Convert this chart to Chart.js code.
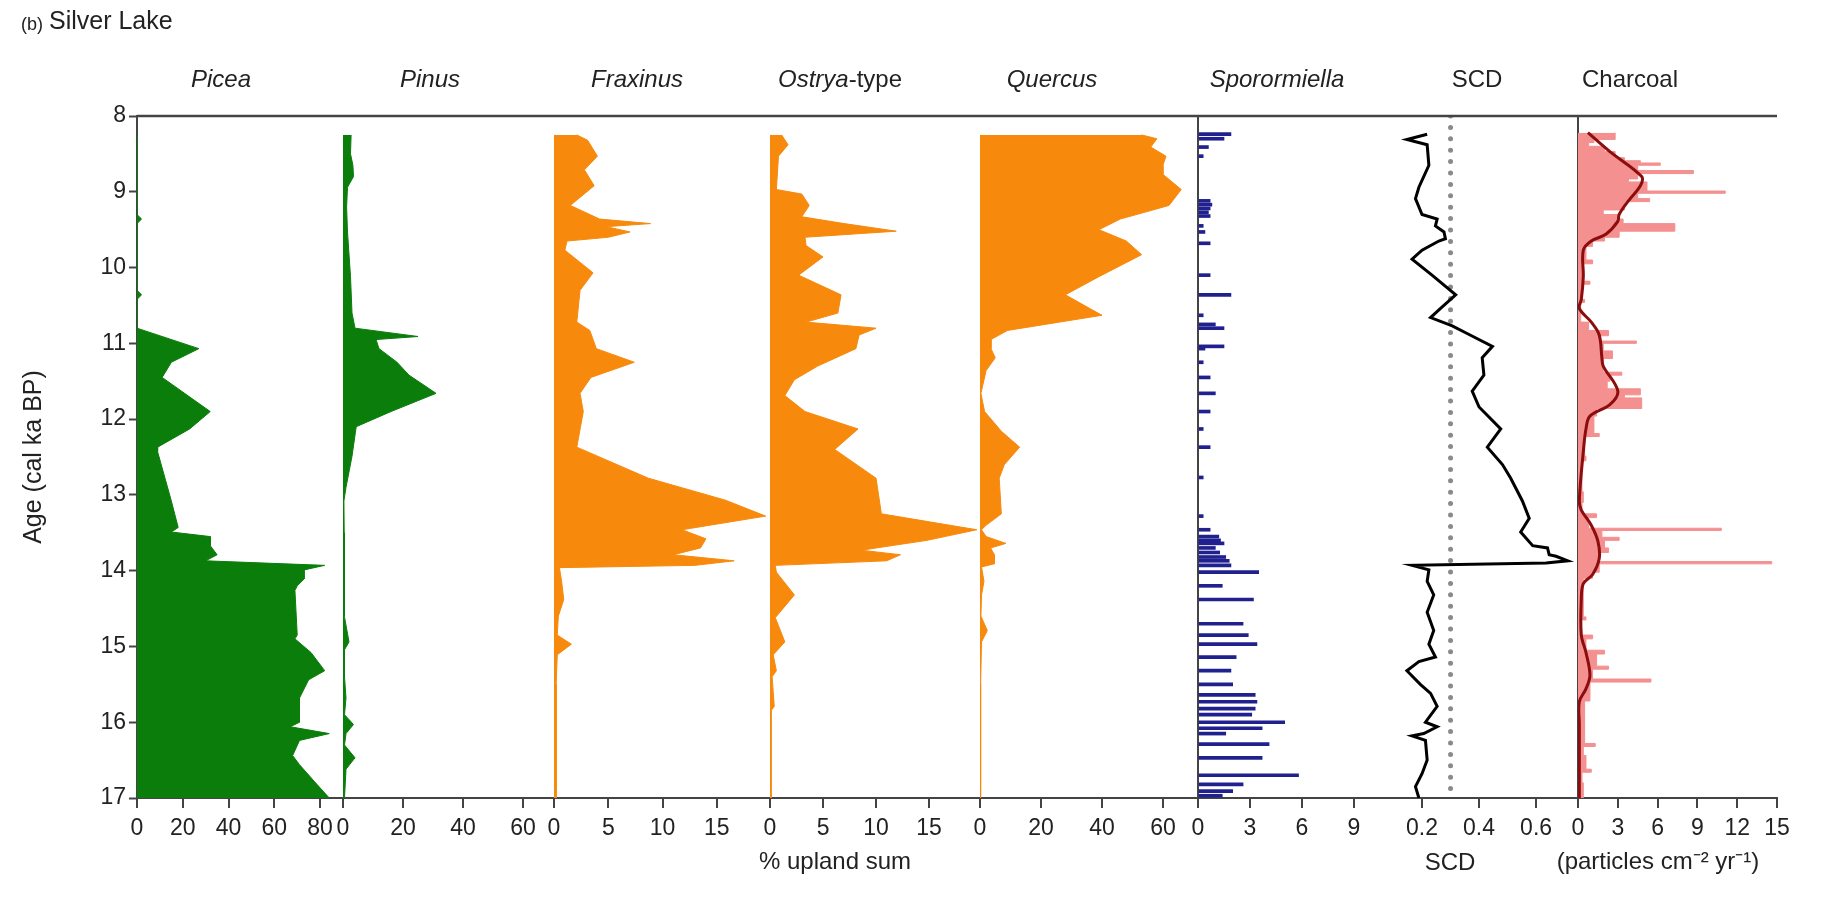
<!DOCTYPE html>
<html>
<head>
<meta charset="utf-8">
<title>Silver Lake</title>
<script src="https://cdn.jsdelivr.net/npm/chart.js@4.4.1/dist/chart.umd.min.js"></script>
<style>
  html, body { margin: 0; padding: 0; background: #fff; }
  #wrap { position: relative; width: 1823px; height: 909px; }
</style>
</head>
<body>
<div id="wrap"><canvas id="diagram" width="1823" height="909"></canvas></div>
<script>
// ---- data (ages in cal ka BP) ----
const ageTicks = [8, 9, 10, 11, 12, 13, 14, 15, 16, 17];

const picAge = [8.25, 9.3, 9.36, 9.42, 10.3, 10.36, 10.42, 10.8, 11.07, 11.25, 11.45, 11.9, 12.13, 12.37, 12.43, 13.08, 13.43, 13.49, 13.55, 13.67, 13.79, 13.87, 13.93, 13.99, 14.11, 14.2, 14.26, 14.85, 14.9, 15.08, 15.32, 15.44, 15.68, 16.0, 16.06, 16.15, 16.24, 16.44, 16.56, 16.8, 17.0];
const picVal = [0, 0, 2, 0, 0, 2, 0, 0, 27, 15, 11, 32, 23, 9, 9, 15, 18, 15, 32, 32, 35, 30, 82, 73, 73, 70, 69, 70, 69, 76, 82, 75, 71, 71, 67, 84, 71, 68, 71, 78, 84];

const pinAge = [8.25, 8.5, 8.65, 8.8, 8.94, 9.2, 9.53, 10.12, 10.6, 10.8, 10.91, 10.95, 11.07, 11.25, 11.42, 11.66, 11.9, 12.1, 12.49, 12.9, 13.08, 13.5, 14.0, 14.6, 14.94, 15.05, 15.4, 15.68, 15.9, 16.03, 16.15, 16.3, 16.47, 16.62, 17.0];
const pinVal = [2.7, 2.5, 3.3, 3.5, 1.5, 1.2, 1.5, 2.5, 3, 4, 25, 11, 12, 18, 22, 31, 16, 4.4, 3, 1, 0.3, 0.4, 0.5, 0.4, 2, 0.4, 0.5, 1, 0.5, 3.5, 1, 0.5, 4, 1, 0.5];

const fraAge = [8.25, 8.32, 8.53, 8.71, 8.92, 9.18, 9.36, 9.42, 9.46, 9.53, 9.6, 9.65, 9.77, 10.07, 10.3, 10.72, 10.83, 11.07, 11.25, 11.45, 11.66, 11.9, 12.37, 12.78, 13.07, 13.28, 13.46, 13.58, 13.7, 13.79, 13.87, 13.93, 13.96, 14.14, 14.38, 14.6, 14.85, 14.97, 15.11, 15.5, 17.0];
const fraVal = [2.1, 3.1, 4, 2.8, 3.7, 1.5, 4.2, 8.9, 4.8, 7, 5, 1.2, 1, 3.6, 2.4, 2.1, 3.3, 3.9, 7.4, 3.4, 2.4, 2.7, 2.1, 8.7, 15.8, 19.5, 11.8, 14, 13.5, 11, 16.6, 13, 0.5, 0.7, 0.9, 0.4, 0.3, 1.6, 0.3, 0.2, 0.2];

const ostAge = [8.25, 8.38, 8.53, 8.97, 9.03, 9.18, 9.33, 9.42, 9.52, 9.6, 9.71, 9.86, 10.1, 10.36, 10.6, 10.72, 10.8, 10.89, 11.07, 11.3, 11.48, 11.69, 11.9, 12.13, 12.4, 12.78, 13.25, 13.46, 13.6, 13.73, 13.79, 13.87, 13.93, 14.02, 14.32, 14.62, 14.94, 15.11, 15.32, 15.4, 15.79, 15.85, 17.0];
const ostVal = [1.1, 1.7, 0.8, 0.6, 3, 3.7, 3, 7, 11.9, 3.3, 3.4, 5, 2.7, 6.7, 6.4, 3.4, 10, 8.4, 8.1, 4.5, 2.3, 1.4, 3.3, 8.3, 6.1, 10, 10.5, 19.5, 14.8, 8.6, 12.3, 11, 0.5, 0.6, 2.3, 0.5, 1.4, 0.3, 0.6, 0.2, 0.4, 0.1, 0.1];

const queAge = [8.25, 8.3, 8.41, 8.53, 8.65, 8.77, 8.97, 9.18, 9.36, 9.5, 9.65, 9.83, 10.12, 10.36, 10.63, 10.83, 10.95, 11.07, 11.19, 11.36, 11.66, 11.9, 12.16, 12.37, 12.6, 12.78, 13.25, 13.4, 13.46, 13.55, 13.64, 13.7, 13.79, 13.91, 13.95, 14.14, 14.32, 14.6, 14.79, 14.94, 15.5, 17.0];
const queVal = [53, 58, 56, 61, 60, 60, 66, 62, 46, 39, 48, 53, 39, 28, 40, 9, 3.6, 3.6, 5, 2, 0.3, 1.5, 7, 13, 8, 6.3, 7, 2, 0.5, 2, 8.5, 3.5, 4.7, 4.7, 0.5, 1.3, 0.5, 0.3, 2.4, 0.5, 0.2, 0.2];

const sporAge = [8.24, 8.3, 8.41, 8.53, 9.12, 9.17, 9.22, 9.27, 9.32, 9.45, 9.53, 9.68, 10.1, 10.36, 10.63, 10.75, 10.8, 11.04, 11.07, 11.25, 11.45, 11.66, 11.9, 12.13, 12.37, 12.77, 13.28, 13.46, 13.55, 13.6, 13.64, 13.7, 13.76, 13.82, 13.87, 13.93, 14.02, 14.2, 14.38, 14.7, 14.85, 14.97, 15.14, 15.32, 15.5, 15.64, 15.73, 15.82, 15.9, 16.0, 16.08, 16.15, 16.29, 16.47, 16.7, 16.82, 16.91, 16.97];
const sporVal = [1.9, 1.5, 0.6, 0.3, 0.7, 0.8, 0.7, 0.6, 0.7, 0.3, 0.4, 0.7, 0.7, 1.9, 0.3, 1.0, 1.5, 1.5, 0.4, 0.3, 0.7, 1.0, 0.7, 0.3, 0.7, 0.3, 0.3, 0.7, 1.2, 1.3, 1.5, 1.0, 1.25, 1.6, 1.8, 1.9, 3.5, 1.4, 3.2, 2.6, 2.9, 3.4, 2.2, 1.9, 2.0, 3.3, 3.4, 3.3, 3.1, 5.0, 3.7, 1.6, 4.1, 3.7, 5.8, 2.6, 2.0, 1.4];

const scdAge = [8.24, 8.31, 8.38, 8.65, 8.94, 9.09, 9.3, 9.36, 9.45, 9.53, 9.62, 9.65, 9.77, 9.89, 10.1, 10.36, 10.54, 10.66, 10.77, 10.86, 11.04, 11.19, 11.42, 11.63, 11.84, 12.13, 12.37, 12.6, 12.78, 13.08, 13.31, 13.49, 13.67, 13.7, 13.79, 13.81, 13.87, 13.9, 13.93, 13.99, 14.14, 14.32, 14.55, 14.79, 14.97, 15.14, 15.2, 15.32, 15.5, 15.62, 15.79, 16.0, 16.06, 16.15, 16.18, 16.24, 16.5, 16.68, 16.85, 17.0];
const scdVal = [0.218, 0.147, 0.218, 0.224, 0.189, 0.177, 0.2, 0.253, 0.247, 0.277, 0.282, 0.259, 0.2, 0.165, 0.235, 0.318, 0.265, 0.23, 0.306, 0.353, 0.447, 0.411, 0.417, 0.376, 0.4, 0.476, 0.429, 0.482, 0.511, 0.552, 0.576, 0.546, 0.588, 0.64, 0.646, 0.67, 0.711, 0.635, 0.165, 0.224, 0.218, 0.241, 0.218, 0.241, 0.224, 0.247, 0.189, 0.147, 0.194, 0.23, 0.253, 0.212, 0.253, 0.206, 0.165, 0.212, 0.218, 0.2, 0.177, 0.189];
const scdThreshold = 0.3;

const charAge = [8.22, 8.31, 8.35, 8.4, 8.47, 8.55, 8.59, 8.62, 8.65, 8.72, 8.76, 8.83, 8.87, 8.99, 9.02, 9.09, 9.13, 9.24, 9.3, 9.36, 9.42, 9.52, 9.6, 9.65, 9.72, 9.9, 9.95, 10.18, 10.22, 10.42, 10.46, 10.72, 10.83, 10.9, 10.97, 11.0, 11.1, 11.2, 11.38, 11.42, 11.5, 11.6, 11.68, 11.72, 11.86, 11.96, 12.19, 12.23, 12.49, 12.55, 12.96, 13.1, 13.25, 13.3, 13.44, 13.47, 13.56, 13.6, 13.7, 13.76, 13.88, 13.91, 14.02, 14.1, 14.61, 14.65, 14.85, 14.9, 15.05, 15.1, 15.26, 15.3, 15.43, 15.47, 15.68, 15.72, 16.28, 16.32, 16.44, 16.62, 16.66, 16.8, 17.0];
const charVal = [2.8, 1.2, 0.8, 2.0, 2.8, 3.5, 4.7, 6.2, 4.5, 8.7, 4.5, 3.8, 5.2, 11.1, 4.5, 5.4, 3.5, 1.9, 3.0, 3.4, 7.3, 3.1, 2.0, 1.1, 0.6, 1.1, 0.4, 0.9, 0.3, 0.5, 0.2, 0.8, 2.3, 1.6, 4.4, 1.9, 2.6, 1.9, 3.3, 2.4, 2.2, 4.7, 3.5, 4.8, 1.4, 1.2, 1.6, 0.5, 0.6, 0.3, 0.4, 0.3, 1.4, 0.8, 10.8, 1.8, 3.1, 2.0, 2.3, 1.6, 14.6, 1.6, 1.1, 0.4, 0.6, 0.2, 1.1, 0.6, 2.0, 1.4, 2.3, 1.1, 5.5, 0.9, 0.9, 0.5, 1.3, 0.4, 0.6, 1.0, 0.3, 0.4, 0.3];

const charSmAge = [8.22, 8.47, 8.8, 8.92, 9.12, 9.3, 9.39, 9.56, 9.65, 9.77, 10.12, 10.42, 10.54, 10.72, 10.89, 11.19, 11.3, 11.63, 11.81, 11.96, 12.13, 12.43, 13.08, 13.2, 13.4, 13.61, 13.84, 14.05, 14.17, 14.38, 14.85, 15.08, 15.38, 15.56, 15.73, 16.03, 17.0];
const charSmVal = [0.75, 2.4, 4.8, 4.7, 3.8, 3.1, 3.0, 2.1, 1.0, 0.4, 0.4, 0.25, 0.1, 1.0, 1.6, 1.8, 1.9, 3.0, 2.4, 0.9, 0.6, 0.4, 0.1, 0.25, 1.0, 1.5, 1.6, 1.1, 0.4, 0.25, 0.25, 0.6, 0.9, 0.6, 0.1, 0.1, 0.1];

const picTicks = [0, 20, 40, 60, 80];
const pinTicks = [0, 20, 40, 60];
const fraTicks = [0, 5, 10, 15];
const ostTicks = [0, 5, 10, 15];
const queTicks = [0, 20, 40, 60];
const sporTicks = [0, 3, 6, 9];
const scdTicks = [0.2, 0.4, 0.6];
const charTicks = [0, 3, 6, 9, 12, 15];

// ---- styling ----
const fontFamily = '"Liberation Sans", Arial, sans-serif';
const textColor = '#222';
const axisColor = '#444';
const tickFont = { family: fontFamily, size: 23 };

const pts = (ages, vals) => ages.map((a, i) => ({ x: vals[i], y: a }));

function areaSet(ages, vals, axis, color) {
  return {
    data: pts(ages, vals), xAxisID: axis,
    borderColor: color, backgroundColor: color, borderWidth: 1,
    fill: 'origin', pointRadius: 0, tension: 0, order: 2
  };
}

// one bottom axis per panel, stacked side by side
function panelAxis(weight, min, max, ticks, zeroLine) {
  return {
    type: 'linear', position: 'bottom', stack: 'panels', stackWeight: weight,
    min: min, max: max,
    afterBuildTicks: (s) => { s.ticks = ticks.map((v) => ({ value: v })); },
    afterFit: (s) => { s.height = 111; },
    border: { display: true, color: axisColor, width: 2 },
    grid: {
      offset: false,
      drawOnChartArea: !!zeroLine,
      color: (c) => (c.tick && c.tick.value === 0 ? axisColor : 'rgba(0,0,0,0)'),
      lineWidth: 2,
      tickColor: axisColor, tickWidth: 2, tickLength: 10
    },
    ticks: { autoSkip: false, maxRotation: 0, padding: 7, color: textColor, font: tickFont }
  };
}

const textPlugin = {
  id: 'frameText',
  afterDraw(chart) {
    const { ctx, chartArea: a } = chart;
    ctx.save();
    ctx.strokeStyle = axisColor;
    ctx.lineWidth = 2.5;
    ctx.beginPath();
    ctx.moveTo(a.left, a.top);
    ctx.lineTo(a.right, a.top);
    ctx.stroke();

    ctx.fillStyle = textColor;
    ctx.textBaseline = 'middle';
    ctx.textAlign = 'left';
    ctx.font = '18px ' + fontFamily;
    ctx.fillText('(b)', 21, 25);
    ctx.font = '25px ' + fontFamily;
    ctx.fillText('Silver Lake', 49, 22);

    const sz = '24px ';
    const heads = [
      ['Picea', 221, true], ['Pinus', 430, true], ['Fraxinus', 637, true],
      ['Quercus', 1052, true], ['Sporormiella', 1277, true],
      ['SCD', 1477, false], ['Charcoal', 1630, false]
    ];
    ctx.textAlign = 'center';
    heads.forEach(([t, x, it]) => {
      ctx.font = (it ? 'italic ' : '') + sz + fontFamily;
      ctx.fillText(t, x, 80);
    });
    // Ostrya-type: genus italic, suffix upright
    ctx.font = 'italic ' + sz + fontFamily;
    const w1 = ctx.measureText('Ostrya').width;
    ctx.font = sz + fontFamily;
    const w2 = ctx.measureText('-type').width;
    const x0 = 840 - (w1 + w2) / 2;
    ctx.textAlign = 'left';
    ctx.font = 'italic ' + sz + fontFamily;
    ctx.fillText('Ostrya', x0, 80);
    ctx.font = sz + fontFamily;
    ctx.fillText('-type', x0 + w1, 80);

    ctx.textAlign = 'center';
    ctx.font = sz + fontFamily;
    ctx.fillText('% upland sum', 835, 862);
    ctx.fillText('SCD', 1450, 863);
    ctx.fillText('(particles cm\u207B\u00B2 yr\u207B\u00B9)', 1658, 862);
    ctx.restore();
  }
};

const green = '#0b7d0b';
const orange = '#f7890d';

new Chart(document.getElementById('diagram'), {
  type: 'line',
  data: {
    datasets: [
      areaSet(picAge, picVal, 'xPic', green),
      areaSet(pinAge, pinVal, 'xPin', green),
      areaSet(fraAge, fraVal, 'xFra', orange),
      areaSet(ostAge, ostVal, 'xOst', orange),
      areaSet(queAge, queVal, 'xQue', orange),
      {
        type: 'bar', data: pts(sporAge, sporVal), xAxisID: 'xSpor',
        backgroundColor: '#20208f', barThickness: 3, order: 2
      },
      {
        data: pts(scdAge, scdVal), xAxisID: 'xScd',
        borderColor: '#000', borderWidth: 3, pointRadius: 0, tension: 0, fill: false, order: 1
      },
      {
        data: [{ x: scdThreshold, y: 8 }, { x: scdThreshold, y: 17 }], xAxisID: 'xScd',
        borderColor: '#8a8a8a', borderWidth: 5, borderDash: [0, 11.4], borderCapStyle: 'round',
        pointRadius: 0, fill: false, order: 1
      },
      {
        data: pts(charAge, charVal), xAxisID: 'xChar',
        borderColor: '#f49090', backgroundColor: '#f49090', borderWidth: 1,
        stepped: 'after', fill: 'origin', pointRadius: 0, order: 2
      },
      {
        data: pts(charSmAge, charSmVal), xAxisID: 'xChar',
        borderColor: '#8b0d0d', borderWidth: 3, pointRadius: 0, tension: 0.35, fill: false, order: 0
      }
    ]
  },
  options: {
    indexAxis: 'y',
    responsive: false,
    animation: false,
    events: [],
    layout: { padding: { top: 116, right: 46, bottom: 0, left: 0 } },
    plugins: { legend: { display: false }, tooltip: { enabled: false }, title: { display: false } },
    scales: {
      y: {
        type: 'linear', position: 'left', reverse: true, min: 8, max: 17, offset: false,
        afterBuildTicks: (s) => { s.ticks = ageTicks.map((v) => ({ value: v })); },
        afterFit: (s) => { s.width = 137; },
        border: { display: true, color: axisColor, width: 2 },
        grid: { offset: false, drawOnChartArea: false, tickLength: 8, tickColor: axisColor, tickWidth: 2 },
        ticks: { autoSkip: false, padding: 3, color: textColor, font: { family: fontFamily, size: 23 } },
        title: {
          display: true, text: 'Age (cal ka BP)', color: textColor,
          font: { family: fontFamily, size: 25 }, padding: { top: 19, bottom: 0 }
        }
      },
      xPic: panelAxis(206, 0, 90, picTicks, false),
      xPin: panelAxis(211, 0, 70.3, pinTicks, false),
      xFra: panelAxis(216, 0, 19.9, fraTicks, false),
      xOst: panelAxis(210, 0, 19.8, ostTicks, false),
      xQue: panelAxis(218, 0, 71.5, queTicks, false),
      xSpor: panelAxis(182, 0, 10.5, sporTicks, true),
      xScd: panelAxis(198, 0.0526, 0.747, scdTicks, false),
      xChar: panelAxis(199, 0, 15, charTicks, true)
    }
  },
  plugins: [textPlugin]
});
</script>
</body>
</html>
